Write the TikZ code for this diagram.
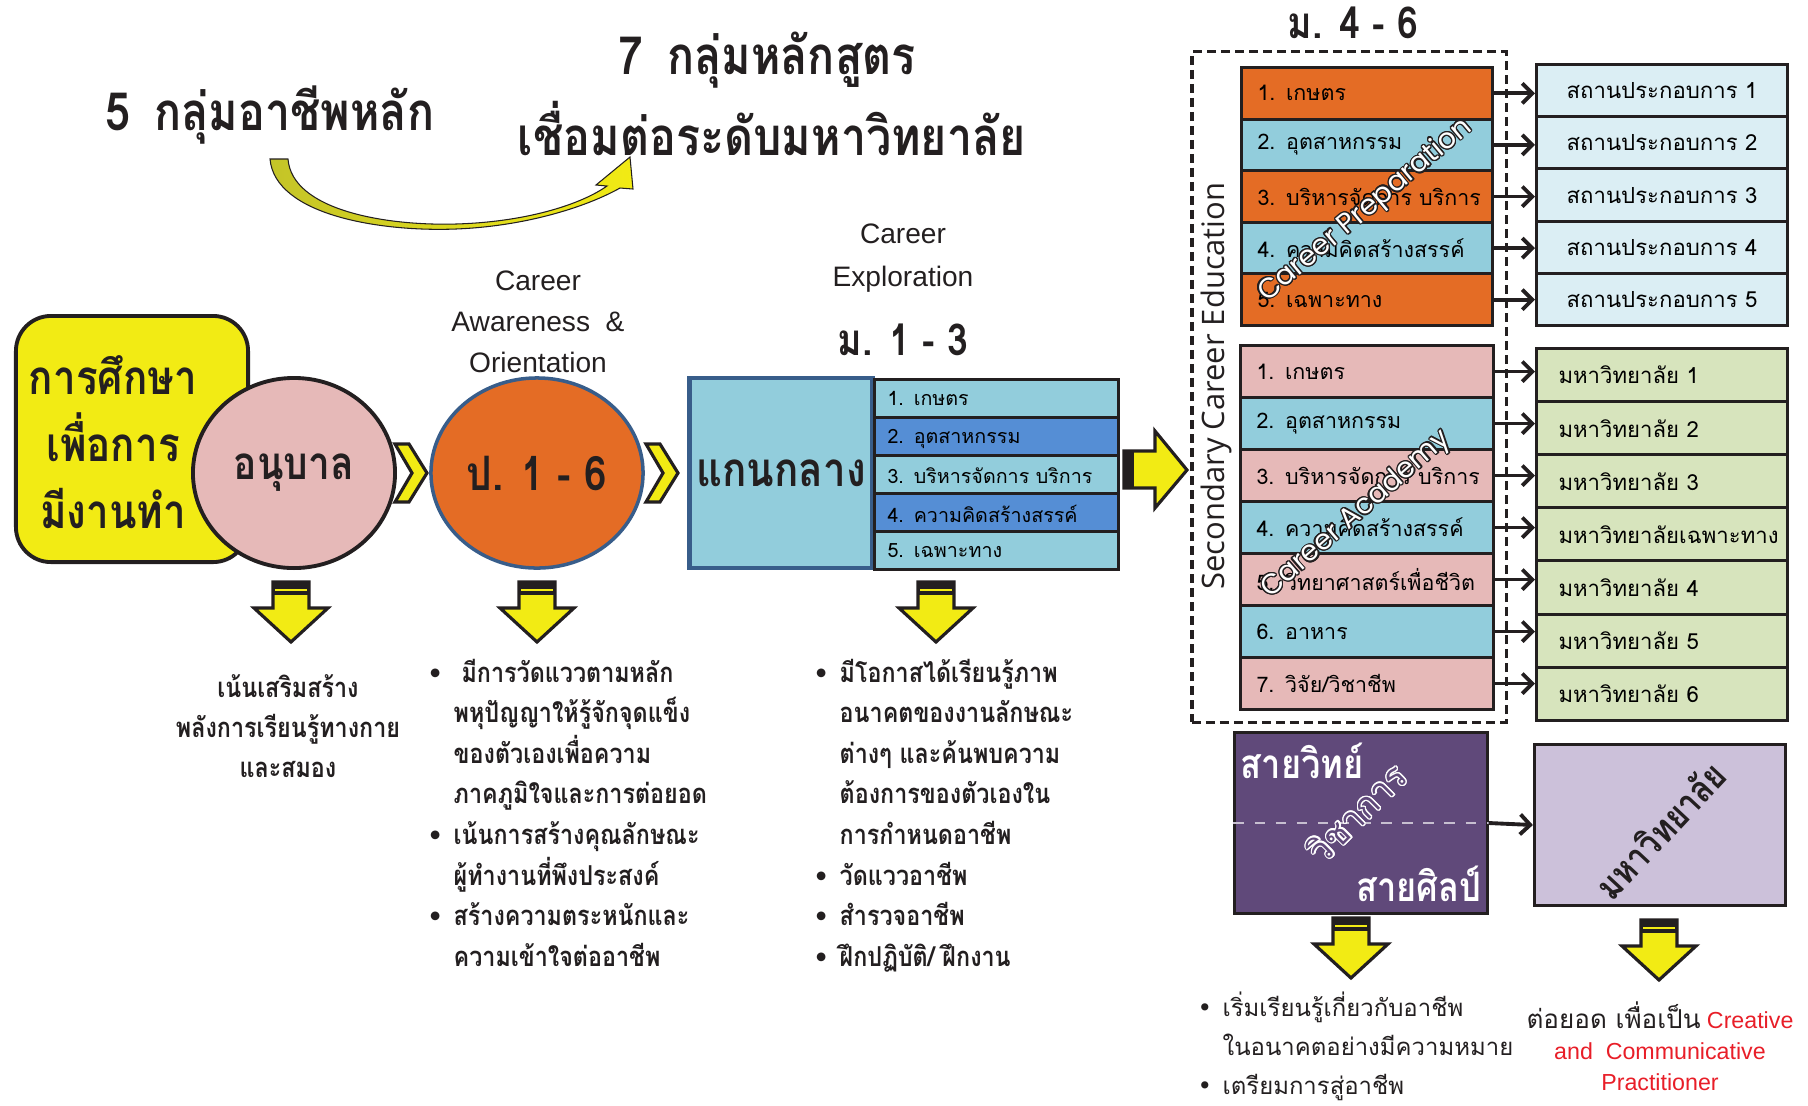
\documentclass[tikz,border=0pt]{standalone}
\usepackage{fontspec}
\setmainfont{Liberation Sans}
\newfontfamily\thai[Script=Thai]{Loma}
\newfontfamily\thaic[Script=Thai,FakeStretch=0.85]{Loma}
\newfontfamily\opensans{Open Sans}
\newfontfamily\geo{Poppins}
\newfontfamily\dejavu{DejaVu Sans}
\usepackage{contour}
\contourlength{0.35pt}
\usetikzlibrary{positioning,calc,shapes.geometric,arrows.meta}
\definecolor{cYellow}{RGB}{242,235,20}
\definecolor{cOlive}{RGB}{196,196,40}
\definecolor{cPink}{RGB}{230,185,184}
\definecolor{cOrange}{RGB}{228,108,37}
\definecolor{cLBlue}{RGB}{146,205,220}
\definecolor{cMBlue}{RGB}{85,142,213}
\definecolor{cEdge}{RGB}{56,93,138}
\definecolor{cPale}{RGB}{219,238,244}
\definecolor{cGreen}{RGB}{215,228,189}
\definecolor{cPurple}{RGB}{96,73,122}
\definecolor{cLav}{RGB}{204,193,218}
\definecolor{cRed}{RGB}{232,30,40}
\definecolor{cInk}{RGB}{35,31,32}
\newcommand\thaisz[1]{\thai\fontsize{#1}{#1}\selectfont}
\newcommand\thaibig[1]{\thaic\bfseries\fontsize{#1}{#1}\selectfont}
\newcommand\bul{\llap{{\dejavu\fontsize{7}{7}\selectfont •}\hspace{3pt}}}

\begin{document}
\begin{tikzpicture}[x=0.01cm,y=-0.01cm,
  ink/.style={draw=cInk,line width=0.85pt},
  rowp/.style={ink,anchor=north west,minimum width=2.51cm,minimum height=0.516cm,
    inner xsep=0.05cm,text width=2.41cm,align=left,font=\thaisz{6.1},
    execute at begin node=\hspace*{0.11cm}},
  rowa/.style={rowp,minimum width=2.53cm,minimum height=0.52cm,text width=2.43cm},
  rowc/.style={ink,anchor=north west,minimum width=2.44cm,minimum height=0.38cm,
    inner xsep=0.13cm,text width=2.18cm,align=left,font=\thaisz{5.6}},
  goal/.style={ink,anchor=north west,minimum width=2.51cm,minimum height=0.526cm,
    font=\thaisz{6.3}},
  arr/.style={-{Straight Barb[length=0.1cm,width=0.2cm]},line width=1.1pt,cInk},
  colb/.style={anchor=base west,inner sep=0,text=cInk,font=\thaic\bfseries\fontsize{7.8}{9}\selectfont},
  colr/.style={colb,font=\thaisz{6.8}},
  chev/.pic={\draw[ink,fill=cYellow,line width=0.9pt] (0,-29) -- (14,-29) -- (32,0) -- (14,29) -- (0,29) -- (17,0) -- cycle;},
  downarr/.pic={
    \draw[ink,fill=cYellow,line width=0.9pt] (-18,0) -- (18,0) -- (18,26) -- (37,26) -- (0,60) -- (-37,26) -- (-18,26) -- cycle;
    \fill[cInk] (-18,0) rectangle (18,13);
    \draw[cYellow,line width=0.5pt] (-16,8) -- (16,8);}
]
\useasboundingbox (0,0) rectangle (1808,1105);

% titles and the curved arrow
\node[font=\thaibig{15},text=cInk] (five) at (270,115) {5\, กลุ่มอาชีพหลัก};
\node[font=\thaibig{15},text=cInk] (seven) at (767,60) {7\, กลุ่มหลักสูตร};
\node[font=\thaibig{15},text=cInk] (link) at (772,129) {เชื่อมต่อระดับมหาวิทยาลัย};
\draw[draw=cInk,line width=0.3pt,left color=cOlive,right color=cYellow]
  (270,159) .. controls (275,215) and (380,232) .. (456,229)
  .. controls (530,226) and (590,205) .. (620,188) -- (633,189) -- (630,157) -- (596,185) -- (607,186)
  .. controls (580,205) and (525,222) .. (456,224)
  .. controls (385,226) and (292,210) .. (288,159) -- cycle;

% stage headings
\node[align=center,font=\fontsize{8}{11.7}\selectfont,text=cInk] (aware) at (538,322) {Career\\Awareness\ \ \&\\Orientation};
\node[align=center,font=\fontsize{8}{12}\selectfont,text=cInk] (explore) at (903,258) {Career\\Exploration};
\node[font=\thaibig{12.5},text=cInk] (m13) at (903,340) {ม. 1 - 3};
\node[font=\thaibig{12.5},text=cInk] (m46) at (1353,23) {ม. 4 - 6};

% left chain
\node[draw=cInk,line width=1.1pt,fill=cYellow,rounded corners=0.35cm,minimum width=2.32cm,minimum height=2.46cm] (edu) at (132,439) {};
\node[align=center,font=\thaic\bfseries\fontsize{13.5}{19}\selectfont,text=cInk] (edutxt) at (113,442) {การศึกษา\\เพื่อการ\\มีงานทำ};
\node[ellipse,draw=cInk,line width=1.1pt,fill=cPink,inner sep=0,minimum width=2.02cm,minimum height=1.9cm,
  font=\thaibig{13},text=cInk] (kinder) at (294,473) {อนุบาล};
\pic at (395,473) {chev};
\node[ellipse,draw=cEdge,line width=1pt,fill=cOrange,inner sep=0,minimum width=2.12cm,minimum height=1.9cm,
  font=\thaibig{13.5},text=cInk] (prim) at (537,473) {ป. 1 - 6};
\pic at (646,473) {chev};
\node[draw=cEdge,line width=1.3pt,fill=cLBlue,inner sep=0,minimum width=1.83cm,minimum height=1.9cm,
  font=\thaibig{13.5},text=cInk] (core) at (781,473) {แกนกลาง};
\foreach \n/\t/\c in {1/1. เกษตร/cLBlue,2/2. อุตสาหกรรม/cMBlue,3/3. บริหารจัดการ บริการ/cLBlue,
  4/4. ความคิดสร้างสรรค์/cMBlue,5/5. เฉพาะทาง/cLBlue}
  \node[rowc,fill=\c] (cr\n) at (873,{378+38*(\n-1)}) {\t};
\draw[ink,line width=0.9pt,fill=cYellow] (1124,451) -- (1155,451) -- (1155,431) -- (1187,470) -- (1155,508) -- (1155,488) -- (1124,488) -- cycle;
\fill[cInk] (1124,451) rectangle (1134,488);

% secondary level
\node[draw=cInk,line width=0.9pt,dash pattern=on 0.09cm off 0.05cm,minimum width=3.14cm,minimum height=6.7cm] (sec) at (1349,387) {};
\node[rotate=90,font=\opensans\fontsize{8.8}{8.8}\selectfont,text=cInk] (sectxt) at (1216,386) {Secondary Career Education};
\foreach \n/\t/\c in {1/1. เกษตร/cOrange,2/2. อุตสาหกรรม/cLBlue,3/3. บริหารจัดการ บริการ/cOrange,
  4/4. ความคิดสร้างสรรค์/cLBlue,5/5. เฉพาะทาง/cOrange}{
  \node[rowp,fill=\c] (cp\n) at (1240,{66+51.6*(\n-1)}) {\t};
  \node[goal,fill=cPale] (sp\n) at (1535,{63+52.2*(\n-1)}) {สถานประกอบการ \n};
  \draw[arr] (cp\n.east) -- (cp\n.east -| sp\n.west);
}
\foreach \n/\t/\c in {1/1. เกษตร/cPink,2/2. อุตสาหกรรม/cLBlue,3/3. บริหารจัดการ บริการ/cPink,
  4/4. ความคิดสร้างสรรค์/cLBlue,5/5. วิทยาศาสตร์เพื่อชีวิต/cPink,6/6. อาหาร/cLBlue,7/{7. วิจัย/วิชาชีพ}/cPink}
  \node[rowa,fill=\c] (ca\n) at (1239,{344+52*(\n-1)}) {\t};
\foreach \n/\t in {1/มหาวิทยาลัย 1,2/มหาวิทยาลัย 2,3/มหาวิทยาลัย 3,4/มหาวิทยาลัยเฉพาะทาง,
  5/มหาวิทยาลัย 4,6/มหาวิทยาลัย 5,7/มหาวิทยาลัย 6}{
  \node[goal,fill=cGreen,minimum height=0.531cm,inner xsep=0.22cm,text width=2.07cm,align=left] (un\n) at (1535,{347+53.1*(\n-1)}) {\t};
  \draw[arr] (ca\n.east) -- (ca\n.east -| un\n.west);
}
\node[rotate=40,font=\geo\fontsize{8}{8}\selectfont] (prep) at (1366,211) {\contour{cInk}{\textcolor{white}{Career Preparation}}};
\node[rotate=41,font=\geo\fontsize{8}{8}\selectfont] (acad) at (1357,515) {\contour{cInk}{\textcolor{white}{Career Academy}}};

% streams and university
\node[ink,fill=cPurple,minimum width=2.52cm,minimum height=1.8cm] (sci) at (1361,823) {};
\draw[white!65!cPurple,dashed,line width=0.4pt] (sci.west) -- (sci.east);
\node[font=\thaibig{11.5},text=white] (scitxt) at (1302,761) {สายวิทย์};
\node[font=\thaibig{11.5},text=white] (arttxt) at (1419,884) {สายศิลป์};
\node[rotate=45,font=\thai\fontsize{10}{10}\selectfont] (acadtxt) at (1357,813) {\contour{white}{\textcolor{cPurple}{วิชาการ}}};
\node[ink,fill=cLav,minimum width=2.51cm,minimum height=1.6cm] (uni) at (1660,825) {};
\node[rotate=47,font=\thaibig{10.5},text=cInk] (unitxt) at (1660,830) {มหาวิทยาลัย};
\draw[arr] (sci.east) -- (uni.west);

% down arrows and notes
\pic at (291,582) {downarr};
\pic at (537,582) {downarr};
\pic at (936,582) {downarr};
\pic at (1351,918) {downarr};
\pic at (1659,920) {downarr};
\foreach \t [count=\k] in {เน้นเสริมสร้าง,พลังการเรียนรู้ทางกาย,และสมอง}
  \node[colb,anchor=base] (n1l\k) at (288,{697+40*(\k-1)}) {\t};
\foreach \t [count=\k] in {\bul\ มีการวัดแววตามหลัก,พหุปัญญาให้รู้จักจุดแข็ง,ของตัวเองเพื่อความ,ภาคภูมิใจและการต่อยอด,
  \bul เน้นการสร้างคุณลักษณะ,ผู้ทำงานที่พึงประสงค์,\bul สร้างความตระหนักและ,ความเข้าใจต่ออาชีพ}
  \node[colb] (n2l\k) at (453,{682+40.6*(\k-1)}) {\t};
\foreach \t [count=\k] in {\bul มีโอกาสได้เรียนรู้ภาพ,อนาคตของงานลักษณะ,ต่างๆ และค้นพบความ,ต้องการของตัวเองใน,
  การกำหนดอาชีพ,\bul วัดแววอาชีพ,\bul สำรวจอาชีพ,\bul ฝึกปฏิบัติ/ ฝึกงาน}
  \node[colb] (n3l\k) at (839,{682+40.6*(\k-1)}) {\t};
\foreach \t [count=\k] in {\bul เริ่มเรียนรู้เกี่ยวกับอาชีพ,ในอนาคตอย่างมีความหมาย,\bul เตรียมการสู่อาชีพ}
  \node[colr] (n4l\k) at (1222,{1016+39*(\k-1)}) {\t};
\node[align=center,font=\fontsize{6.6}{8.8}\selectfont,text=cRed] (n5) at (1660,1046)
  {{\thaisz{7.4}\color{cInk}ต่อยอด เพื่อเป็น} Creative\\and\ \ Communicative\\Practitioner};
\end{tikzpicture}
\end{document}
